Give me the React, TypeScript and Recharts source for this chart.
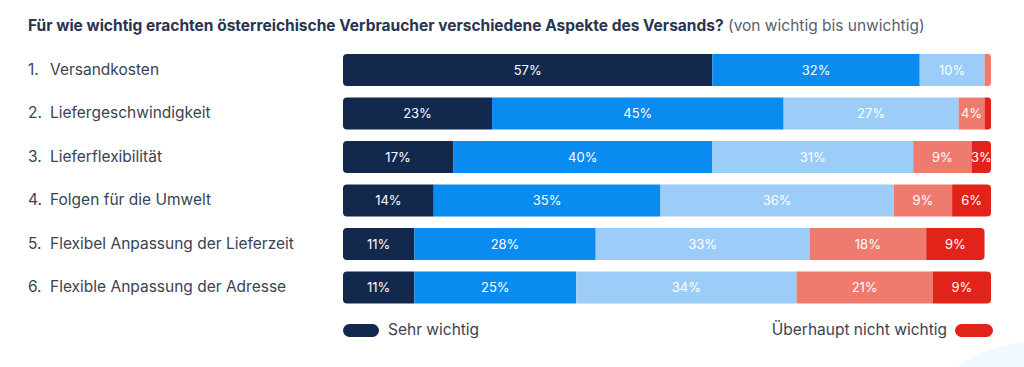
import { BarChart, Bar, XAxis, YAxis, LabelList } from 'recharts';

const categories = [
  'Versandkosten',
  'Liefergeschwindigkeit',
  'Lieferflexibilität',
  'Folgen für die Umwelt',
  'Flexibel Anpassung der Lieferzeit',
  'Flexible Anpassung der Adresse',
];
const sehrWichtig = [57, 23, 17, 14, 11, 11];
const wichtig = [32, 45, 40, 35, 28, 25];
const neutral = [10, 27, 31, 36, 33, 34];
const wenigerWichtig = [1, 4, 9, 9, 18, 21];
const ueberhauptNicht = [0, 2, 3, 6, 9, 9];

const SERIES = [
  { key: 'sehr', name: 'Sehr wichtig', color: '#13284d' },
  { key: 'wichtig', name: 'Wichtig', color: '#0a8bf0' },
  { key: 'neutral', name: 'Neutral', color: '#9bcdf8' },
  { key: 'weniger', name: 'Weniger wichtig', color: '#ef7b6f' },
  { key: 'nicht', name: 'Überhaupt nicht wichtig', color: '#e2231a' },
];

const data = categories.map((name, i) => ({
  name,
  idx: i + 1,
  sehr: sehrWichtig[i],
  wichtig: wichtig[i],
  neutral: neutral[i],
  weniger: wenigerWichtig[i],
  nicht: ueberhauptNicht[i],
}));

const FONT = 'Inter, "Noto Sans", sans-serif';

// rounded path, only rounding the outer ends of a stacked row
const segPath = (x: number, y: number, w: number, h: number, rl: number, rr: number) => {
  return `M${x + rl},${y} L${x + w - rr},${y} Q${x + w},${y} ${x + w},${y + rr} L${x + w},${y + h - rr} Q${x + w},${y + h} ${x + w - rr},${y + h} L${x + rl},${y + h} Q${x},${y + h} ${x},${y + h - rl} L${x},${y + rl} Q${x},${y} ${x + rl},${y} Z`;
};

const makeShape = (key: string) => (props: any) => {
  const { x, y, width, height, fill, payload } = props;
  if (!width || width <= 0) return <g />;
  const nonZero = SERIES.filter((s) => payload[s.key] > 0).map((s) => s.key);
  const r = Math.min(4, width / 2);
  const rl = nonZero[0] === key ? r : 0;
  const rr = nonZero[nonZero.length - 1] === key ? r : 0;
  return <path d={segPath(x, y, width, height, rl, rr)} fill={fill} />;
};

const CategoryTick = ({ y, payload }: any) => {
  const row = data[payload.index];
  return (
    <g>
      <text x={28} y={y} dy={5} fontSize={15.5} fill="#3b4252" fontFamily={FONT}>
        {row.idx}.
      </text>
      <text x={50} y={y} dy={5} fontSize={15.5} fill="#3b4252" fontFamily={FONT}>
        {payload.value}
      </text>
    </g>
  );
};

export default function App() {
  return (
    <div style={{ position: 'fixed', left: 0, top: 0, width: 1024, height: 367, background: '#fff', overflow: 'hidden', fontFamily: FONT }}>
      <div style={{ position: 'absolute', left: 940, top: 340, width: 220, height: 120, borderRadius: '50%', background: '#f1f8fe' }} />
      <div style={{ position: 'absolute', left: 28, top: 16, fontSize: 15.5, color: '#2a3450', whiteSpace: 'nowrap' }}>
        <span style={{ fontWeight: 700 }}>Für wie wichtig erachten österreichische Verbraucher verschiedene Aspekte des Versands?</span>
        <span style={{ color: '#5a6070' }}> (von wichtig bis unwichtig)</span>
      </div>
      <div style={{ position: 'absolute', left: 0, top: 0 }}>
        <BarChart
          width={1024}
          height={367}
          data={data}
          layout="vertical"
          margin={{ top: 48, right: 33, bottom: 58, left: 0 }}
          barSize={32}
        >
          <XAxis type="number" domain={[0, 100]} allowDataOverflow hide />
          <YAxis
            type="category"
            dataKey="name"
            width={343}
            axisLine={false}
            tickLine={false}
            tick={<CategoryTick />}
          />
          {SERIES.map((s) => (
            <Bar
              key={s.key}
              dataKey={s.key}
              name={s.name}
              stackId="a"
              fill={s.color}
              shape={makeShape(s.key)}
              isAnimationActive={false}
            >
              <LabelList
                dataKey={s.key}
                position="center"
                fill="#ffffff"
                fontSize={13}
                fontFamily={FONT}
                formatter={(v: any) => (v >= 3 ? `${v}%` : '')}
              />
            </Bar>
          ))}
        </BarChart>
      </div>
      <div style={{ position: 'absolute', left: 343, top: 324, width: 36, height: 13, borderRadius: 7, background: '#13284d' }} />
      <div style={{ position: 'absolute', left: 388, top: 320, fontSize: 15.5, color: '#3b4252' }}>Sehr wichtig</div>
      <div style={{ position: 'absolute', right: 1024 - 947, top: 320, fontSize: 15.5, color: '#3b4252', whiteSpace: 'nowrap' }}>Überhaupt nicht wichtig</div>
      <div style={{ position: 'absolute', left: 955, top: 324, width: 38, height: 13, borderRadius: 7, background: '#e2231a' }} />
    </div>
  );
}
